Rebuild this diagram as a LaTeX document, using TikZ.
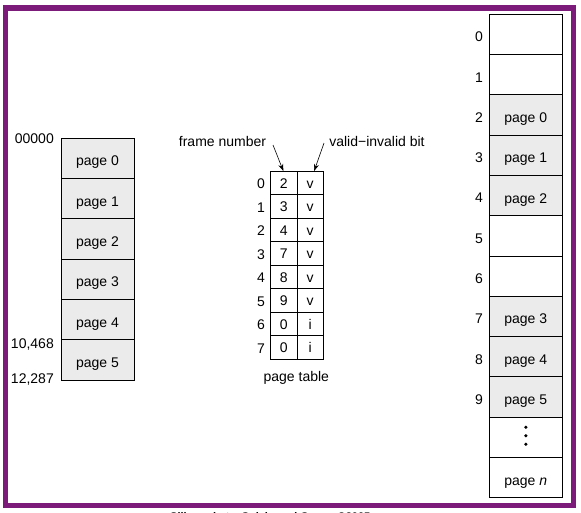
\documentclass[tikz,border=0pt]{standalone}
\usepackage{fontspec}
\setmainfont{Liberation Sans}
\usetikzlibrary{arrows.meta}
\definecolor{framepurple}{RGB}{125,27,122}
\definecolor{pagefill}{RGB}{235,235,235}
\begin{document}
\begin{tikzpicture}[x=1pt,y=-1pt,
  font=\fontsize{14}{16}\selectfont,
  cell/.style={draw, line width=0.9, minimum width=73, minimum height=40.28, inner sep=0, outer sep=0},
  used/.style={cell, fill=pagefill},
  lowtext/.style={text height=15, text depth=0},
  ptcell/.style={draw, line width=0.9, minimum width=26.3, minimum height=23.5, inner sep=0, outer sep=0, text height=11, text depth=0},
  lbl/.style={anchor=east, inner sep=0},
  arr/.style={-{Stealth[length=7pt,width=5pt]}, line width=0.6}]
\useasboundingbox (0,0) rectangle (581,512);
% purple frame
\draw[framepurple, line width=5.5] (5.5,8) rectangle (573.5,505.5);
% footer (cut off at the bottom)
\node[anchor=base west, inner sep=0, font=\bfseries\fontsize{11}{13}\selectfont] (foot) at (170,520.5) {Silberschatz, Galvin and Gagne ©2005};
% logical memory
\foreach \i in {0,...,5} {
  \node[used, lowtext] (L\i) at (97.5,{158.44+40.28*\i}) {page \i};
}
\node[lbl] (a0) at (54,138.3) {00000};
\node[lbl] (a1) at (54,345) {10,468};
\node[lbl] (a2) at (54,379.5) {12,287};
% page table
\foreach \i/\f/\v in {0/2/v,1/3/v,2/4/v,3/7/v,4/8/v,5/9/v,6/0/i,7/0/i} {
  \node[ptcell] (F\i) at (283.85,{182.75+23.5*\i}) {\f};
  \node[ptcell] (V\i) at (310.15,{182.75+23.5*\i}) {\v};
  \node[lbl] (P\i) at (265,{183.75+23.5*\i}) {\i};
}
\node[inner sep=0] (fnlbl) at (222.5,141.5) {frame number};
\node[inner sep=0] (vblbl) at (377,141) {valid−invalid bit};
\node[inner sep=0] (ptlbl) at (296.3,377.5) {page table};
\coordinate (fnstart) at (273,145);
\coordinate (vbstart) at (324,143);
\draw[arr] (fnstart) -- ([xshift=-0.5]F0.north);
\draw[arr] (vbstart) -- ([xshift=4]V0.north);
% physical memory
\foreach \i in {0,1,5,6} {
  \node[cell] (R\i) at (525.8,{34.44+40.28*\i}) {};
}
\foreach \i/\p in {2/0,3/1,4/2,7/3,8/4,9/5} {
  \node[used, lowtext] (R\i) at (525.8,{34.44+40.28*\i}) {page \p};
}
\node[cell] (R10) at (525.8,{34.44+40.28*10}) {};
\node[cell, lowtext] (R11) at (525.8,{34.44+40.28*11}) {page \textit{n}};
\foreach \d in {-8.5,0,8.5} {
  \fill ([yshift=\d+1.5]R10.center) circle (1.7);
}
\foreach \i in {0,...,9} {
  \node[lbl] (N\i) at (483,{37+40.28*\i}) {\i};
}
\end{tikzpicture}
\end{document}
